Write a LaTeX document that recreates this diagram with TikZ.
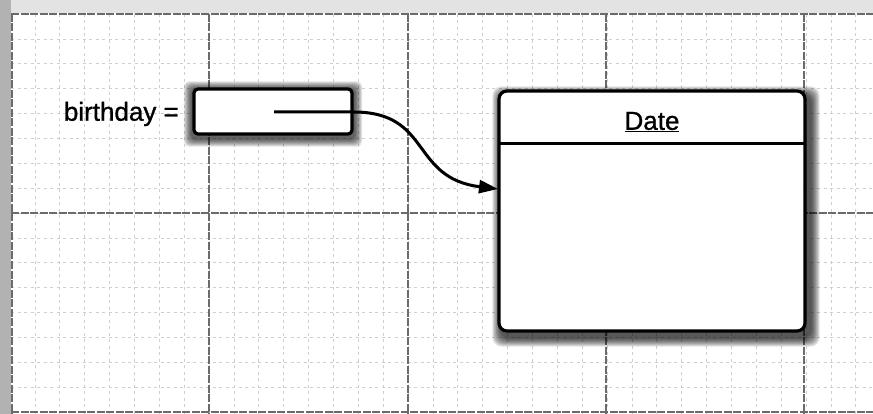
\documentclass[tikz,border=0pt]{standalone}
\usepackage{fontspec}
\setmainfont{Liberation Sans}
\newfontfamily\labelfont[FakeBold=1.0]{Liberation Sans}
\usetikzlibrary{arrows.meta}
\pgfdeclarelayer{gridlayer}
\pgfdeclarelayer{shadowlayer}
\pgfsetlayers{gridlayer,shadowlayer,main}
\tikzset{
  minorgrid/.style={draw=gray!38,line width=0.7pt,dash pattern=on 3pt off 3.5pt},
  majorgrid/.style={draw=black!58,line width=1.2pt,dash pattern=on 8pt off 1.5pt},
  refbox/.style={draw=black,line width=3.2pt,fill=white,rounded corners=4pt},
  objbox/.style={draw=black,line width=3.2pt,fill=white,rounded corners=8pt},
  shadowpiece/.style={fill=black,opacity=0.11},
  labeltext/.style={font=\labelfont\fontsize{26}{30}\selectfont,inner sep=0pt},
  refline/.style={draw=black,line width=3pt},
}
\begin{document}
\begin{tikzpicture}[x=1pt,y=-1pt]
\useasboundingbox (0,0) rectangle (873,414);
% nodes
\node[refbox,minimum width=158pt,minimum height=45pt] (var) at (273,111.5) {};
\node[labeltext,anchor=east] (lbl) at (179,114) {birthday =};
\node[objbox,minimum width=306pt,minimum height=240pt] (obj) at (652,211) {};
\path (obj.north west) ++(1.6,54) coordinate (divl);
\path (obj.north east) ++(-1.6,54) coordinate (divr);
\draw[line width=2.8pt] (divl) -- (divr);
\node[labeltext] (title) at (652,122) {\underline{Date}};
% reference arrow
\coordinate (start) at (274,112);
\coordinate (tip) at (498,189);
\draw[refline,-{Triangle[length=19pt,width=13pt]}] (start) -- (var.east |- start)
  .. controls (432,112) and (410,178) .. (tip);
% shadows
\begin{pgfonlayer}{shadowlayer}
\foreach \k in {1,...,8}{
  \fill[shadowpiece,rounded corners=5pt]
    ([shift={(-\k-0.5,-\k+2)}]var.north west) rectangle ([shift={(\k+0.5,\k+3)}]var.south east);
}
\foreach \k in {1,...,9}{
  \fill[shadowpiece,rounded corners=9pt]
    ([shift={(-\k+4,-\k+6)}]obj.north west) rectangle ([shift={(\k+4,\k+5)}]obj.south east);
}
\end{pgfonlayer}
% background and grid
\begin{pgfonlayer}{gridlayer}
\fill[white] (0,0) rectangle (873,414);
\fill[gray!22] (0,0) rectangle (873,13);
\fill[gray!60] (0,0) rectangle (11,414);
\foreach \i in {1,...,35}{
  \pgfmathsetmacro{\xx}{10+24.875*\i}
  \draw[minorgrid] (\xx,14) -- (\xx,414);
}
\foreach \j in {1,...,15}{
  \pgfmathsetmacro{\yy}{14+24.875*\j}
  \draw[minorgrid] (11,\yy) -- (873,\yy);
}
\foreach \xx in {209,408,606,804}{
  \draw[majorgrid] (\xx,14) -- (\xx,414);
}
\draw[majorgrid] (11,213) -- (873,213);
\draw[majorgrid] (11,412) -- (873,412);
\draw[majorgrid] (11,14) -- (873,14);
\draw[majorgrid] (12,14) -- (12,414);
\end{pgfonlayer}
\end{tikzpicture}
\end{document}
